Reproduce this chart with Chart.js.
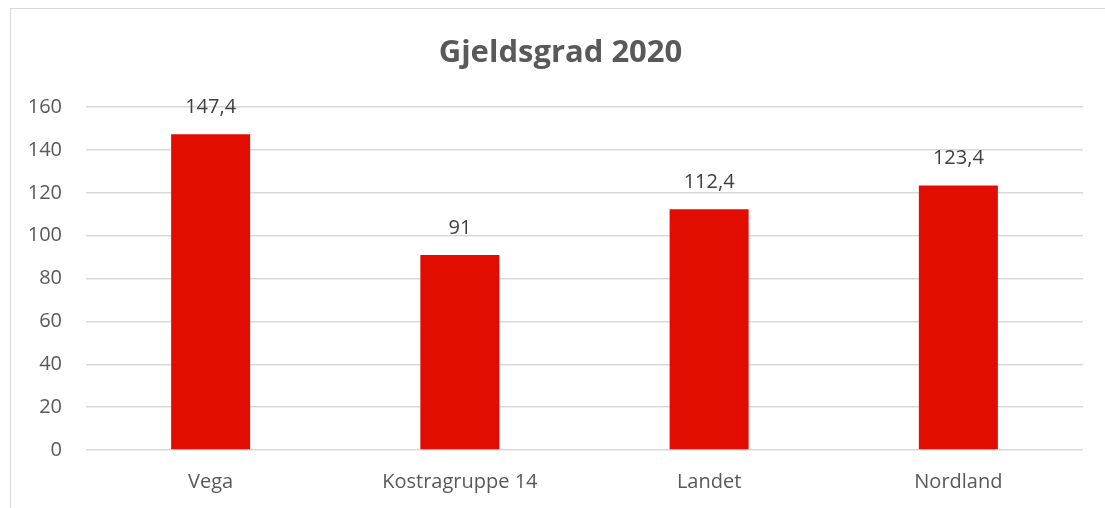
<!DOCTYPE html>
<html>
<head>
<meta charset="utf-8">
<script src="https://cdn.jsdelivr.net/npm/chart.js@4/dist/chart.umd.min.js"></script>
<style>
  body { margin: 0; background: #fff; }
  #frame { position: absolute; left: 10px; top: 8px; width: 1200px; height: 600px;
           border-left: 1px solid #d9d9d9; border-top: 1px solid #d9d9d9; }
  #chart { position: absolute; left: 0; top: 0; }
</style>
</head>
<body>
<div id="frame"></div>
<canvas id="chart" width="1105" height="508"></canvas>
<script>
const categories = ['Vega', 'Kostragruppe 14', 'Landet', 'Nordland'];
const values = [147.4, 91, 112.4, 123.4];
const font = '"Open Sans", "Noto Sans", sans-serif';

// value labels above the bars, Norwegian decimal comma
const valueLabels = {
  id: 'valueLabels',
  afterLayout(chart) {
    // nudge the title to the right so it sits where the original has it
    chart.titleBlock.left += 19;
    chart.titleBlock.right += 19;
  },
  afterDatasetsDraw(chart) {
    const c = chart.ctx;
    const meta = chart.getDatasetMeta(0);
    c.save();
    c.font = '20px ' + font;
    c.fillStyle = '#404040';
    c.textAlign = 'center';
    c.textBaseline = 'middle';
    meta.data.forEach((bar, i) => {
      const txt = String(values[i]).replace('.', ',');
      c.fillText(txt, bar.x, bar.y - 27);
    });
    c.restore();
  }
};

new Chart(document.getElementById('chart'), {
  type: 'bar',
  data: {
    labels: categories,
    datasets: [{
      data: values,
      backgroundColor: '#E10D00',
      borderWidth: 0,
      categoryPercentage: 1,
      barPercentage: 0.317
    }]
  },
  options: {
    responsive: false,
    animation: false,
    layout: { padding: { left: 0, right: 22, top: 35, bottom: 0 } },
    plugins: {
      legend: { display: false },
      tooltip: { enabled: false },
      title: {
        display: true,
        text: 'Gjeldsgrad 2020',
        color: '#595959',
        font: { family: font, size: 31, weight: 'bold' },
        padding: { top: 0, bottom: 35 }
      }
    },
    scales: {
      x: {
        afterFit(scale) { scale.height = 58; },
        grid: { display: false, drawTicks: false },
        border: { display: false },
        ticks: { color: '#595959', font: { family: font, size: 20 }, padding: 20 }
      },
      y: {
        min: 0,
        max: 160,
        afterFit(scale) { scale.width = 86; },
        grid: { color: '#d9d9d9', lineWidth: 1.5, drawTicks: false },
        border: { display: false },
        ticks: { stepSize: 20, color: '#595959', font: { family: font, size: 20 }, padding: 24 }
      }
    }
  },
  plugins: [valueLabels]
});
</script>
</body>
</html>
